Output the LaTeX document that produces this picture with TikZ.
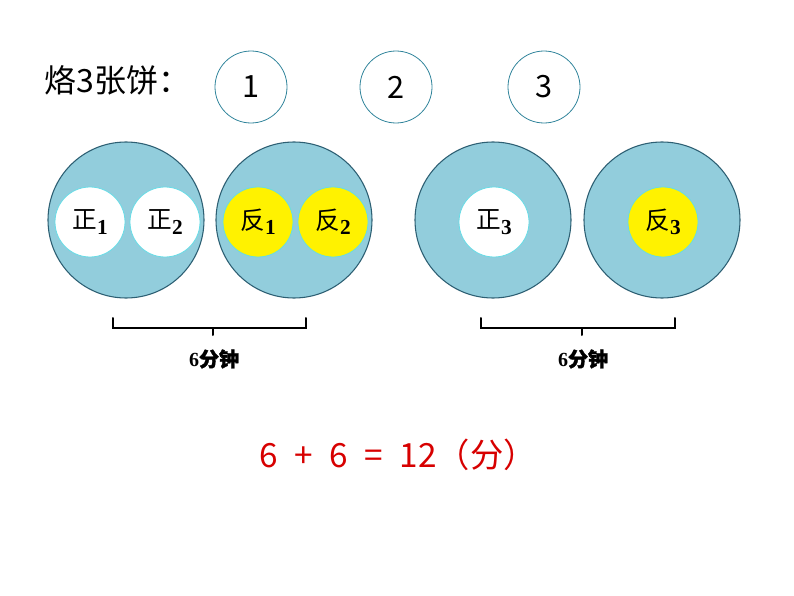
\documentclass[tikz,border=0pt]{standalone}
\usepackage{fontspec}
\setmainfont{Liberation Serif}
\newfontfamily\cjk{Noto Sans CJK SC}
\newfontfamily\cjkb[FakeBold=1.5]{Noto Sans CJK SC}
\usetikzlibrary{positioning}
\definecolor{panblue}{RGB}{146,205,220}
\definecolor{panedge}{RGB}{45,95,115}
\definecolor{ringblue}{RGB}{49,132,155}
\definecolor{eqred}{RGB}{215,0,0}
\tikzset{
  pan/.style={circle,draw=panedge,fill=panblue,line width=0.8pt,minimum size=117pt,inner sep=0pt},
  side/.style={circle,draw=panblue!70!cyan,line width=0.6pt,minimum size=52.5pt,inner sep=0pt,font=\fontsize{18.5}{18.5}\selectfont\cjk},
  cake/.style={circle,draw=ringblue,line width=0.6pt,minimum size=54pt,inner sep=0pt,font=\fontsize{23}{23}\selectfont\cjk},
  brace/.style={line width=1.5pt,line cap=round},
  timelabel/.style={font=\fontsize{15}{15}\selectfont\bfseries}
}
\newcommand{\sidelbl}[2]{#1\raisebox{-0.4ex}{\fontsize{16}{16}\selectfont\rmfamily\bfseries #2}}
\begin{document}
\begin{tikzpicture}[x=0.75pt,y=-0.75pt]
  \useasboundingbox (0,0) rectangle (794,596);
  % title and the three cakes
  \node[anchor=west,font=\fontsize{24}{24}\selectfont\cjk] (title) at (40,80) {烙3张饼：};
  \foreach \n/\x in {1/251,2/396,3/544} {
    \node[cake] (c\n) at (\x,87) {\n};
  }
  % the pan, four times
  \foreach \i/\x in {1/126,2/294,3/493,4/662} {
    \node[pan] (p\i) at (\x,220) {};
  }
  \foreach \nm/\x/\fc/\t/\s in {z1/90/white/正/1,z2/165/white/正/2,f1/258/yellow/反/1,f2/333/yellow/反/2,z3/494/white/正/3,f3/663/yellow/反/3} {
    \node[side,fill=\fc] (\nm) at (\x,222) {\sidelbl{\t}{\s}};
  }
  % brackets
  \node[timelabel] (t1) at (214,359) {6{\cjkb 分钟}};
  \node[timelabel] (t2) at (583,359) {6{\cjkb 分钟}};
  \draw[brace] (113,318) -- (113,328) -- (306,328) -- (306,318);
  \draw[brace] (213,328) -- (213,335);
  \draw[brace] (481,318) -- (481,328) -- (675,328) -- (675,318);
  \draw[brace] (582,328) -- (582,335);
  % sum
  \node[text=eqred,font=\fontsize{25}{25}\selectfont\cjk] (sum) at (398,455) {6\hspace{0.5em}+\hspace{0.5em}6\hspace{0.5em}=\hspace{0.5em}12（分）};
\end{tikzpicture}
\end{document}
